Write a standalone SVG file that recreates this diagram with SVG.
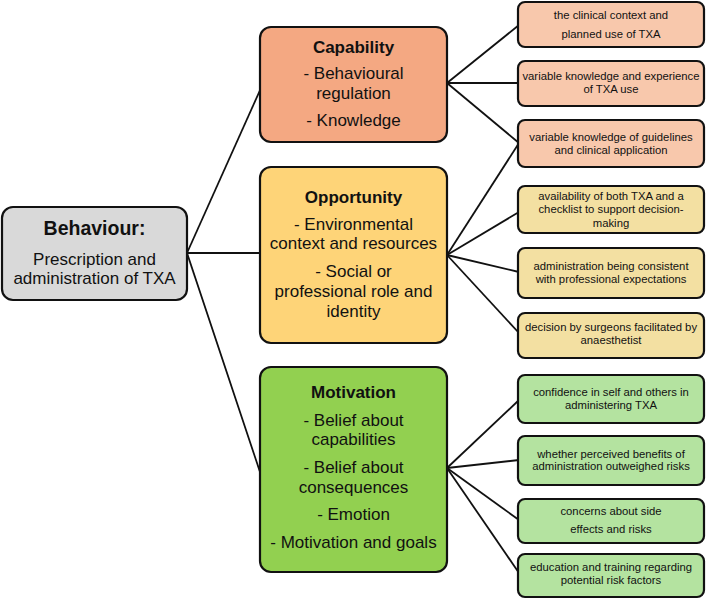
<svg xmlns="http://www.w3.org/2000/svg" width="709" height="599" viewBox="0 0 709 599">
<style>
  .box { stroke: #111; stroke-width: 2.2; }
  .beh { fill: #d9d9d9; }
  .cap { fill: #f4a882; }
  .opp { fill: #fed478; }
  .mot { fill: #92d050; }
  .capl { fill: #f8c8ac; }
  .oppl { fill: #f3e0a2; }
  .motl { fill: #b4e3a0; }
  text { font-family: "Liberation Sans", Arial, sans-serif; fill: #111; text-anchor: middle; }
  .t1 { font-size: 19.5px; font-weight: bold; }
  .t2 { font-size: 17px; font-weight: bold; }
  .m { font-size: 17px; }
  .s { font-size: 11.3px; }
  .conn line { stroke: #111; stroke-width: 1.8; }
</style>
<rect width="709" height="599" fill="#ffffff"/>
<g class="conn" id="connectors">
  <line x1="187" y1="253" x2="261" y2="88"/>
  <line x1="187" y1="253" x2="261" y2="253"/>
  <line x1="187" y1="253" x2="261" y2="475"/>
  <line x1="447" y1="83" x2="519" y2="25"/>
  <line x1="447" y1="83" x2="519" y2="83"/>
  <line x1="447" y1="83" x2="519" y2="143"/>
  <line x1="447" y1="255" x2="519" y2="143"/>
  <line x1="447" y1="255" x2="519" y2="212"/>
  <line x1="447" y1="255" x2="519" y2="272"/>
  <line x1="447" y1="255" x2="519" y2="333"/>
  <line x1="447" y1="468" x2="519" y2="400"/>
  <line x1="447" y1="468" x2="519" y2="460"/>
  <line x1="447" y1="468" x2="519" y2="520"/>
  <line x1="447" y1="468" x2="519" y2="573"/>
</g>
<g id="behaviour">
  <rect class="box beh" x="2" y="207" width="185" height="93" rx="11"/>
  <text class="t1" x="94.5" y="235">Behaviour:</text>
  <text class="m" x="94.5" y="265">Prescription and</text>
  <text class="m" x="94.5" y="284">administration of TXA</text>
</g>
<g id="capability">
  <rect class="box cap" x="260" y="27" width="187" height="115" rx="11"/>
  <text class="t2" x="353.5" y="53">Capability</text>
  <text class="m" x="353.5" y="79">- Behavioural</text>
  <text class="m" x="353.5" y="99">regulation</text>
  <text class="m" x="353.5" y="126">- Knowledge</text>
</g>
<g id="opportunity">
  <rect class="box opp" x="260" y="167" width="187" height="176" rx="11"/>
  <text class="t2" x="353.5" y="203">Opportunity</text>
  <text class="m" x="353.5" y="230">- Environmental</text>
  <text class="m" x="353.5" y="249">context and resources</text>
  <text class="m" x="353.5" y="277">- Social or</text>
  <text class="m" x="353.5" y="297">professional role and</text>
  <text class="m" x="353.5" y="317">identity</text>
</g>
<g id="motivation">
  <rect class="box mot" x="260" y="367" width="187" height="205" rx="11"/>
  <text class="t2" x="353.5" y="398">Motivation</text>
  <text class="m" x="353.5" y="426">- Belief about</text>
  <text class="m" x="353.5" y="445">capabilities</text>
  <text class="m" x="353.5" y="473">- Belief about</text>
  <text class="m" x="353.5" y="493">consequences</text>
  <text class="m" x="353.5" y="520">- Emotion</text>
  <text class="m" x="353.5" y="548">- Motivation and goals</text>
</g>
<g id="c1">
  <rect class="box capl" x="518" y="2" width="186" height="45" rx="7"/>
  <text class="s" x="611" y="19">the clinical context and</text>
  <text class="s" x="611" y="38">planned use of TXA</text>
</g>
<g id="c2">
  <rect class="box capl" x="518" y="61" width="186" height="45" rx="7"/>
  <text class="s" x="611" y="80">variable knowledge and experience</text>
  <text class="s" x="611" y="93">of TXA use</text>
</g>
<g id="c3">
  <rect class="box capl" x="518" y="120" width="186" height="47" rx="7"/>
  <text class="s" x="611" y="141">variable knowledge of guidelines</text>
  <text class="s" x="611" y="154">and clinical application</text>
</g>
<g id="o1">
  <rect class="box oppl" x="518" y="186" width="186" height="47" rx="7"/>
  <text class="s" x="611" y="200">availability of both TXA and a</text>
  <text class="s" x="611" y="213">checklist to support decision-</text>
  <text class="s" x="611" y="227">making</text>
</g>
<g id="o2">
  <rect class="box oppl" x="518" y="248" width="186" height="50" rx="7"/>
  <text class="s" x="611" y="270">administration being consistent</text>
  <text class="s" x="611" y="283">with professional expectations</text>
</g>
<g id="o3">
  <rect class="box oppl" x="518" y="313" width="186" height="45" rx="7"/>
  <text class="s" x="611" y="331">decision by surgeons facilitated by</text>
  <text class="s" x="611" y="344">anaesthetist</text>
</g>
<g id="m1">
  <rect class="box motl" x="518" y="375" width="186" height="48" rx="7"/>
  <text class="s" x="611" y="396">confidence in self and others in</text>
  <text class="s" x="611" y="409">administering TXA</text>
</g>
<g id="m2">
  <rect class="box motl" x="518" y="436" width="186" height="49" rx="7"/>
  <text class="s" x="611" y="458">whether perceived benefits of</text>
  <text class="s" x="611" y="470">administration outweighed risks</text>
</g>
<g id="m3">
  <rect class="box motl" x="518" y="499" width="186" height="44" rx="7"/>
  <text class="s" x="611" y="515">concerns about side</text>
  <text class="s" x="611" y="533">effects and risks</text>
</g>
<g id="m4">
  <rect class="box motl" x="518" y="554" width="186" height="43" rx="7"/>
  <text class="s" x="611" y="571">education and training regarding</text>
  <text class="s" x="611" y="584">potential risk factors</text>
</g>
</svg>
